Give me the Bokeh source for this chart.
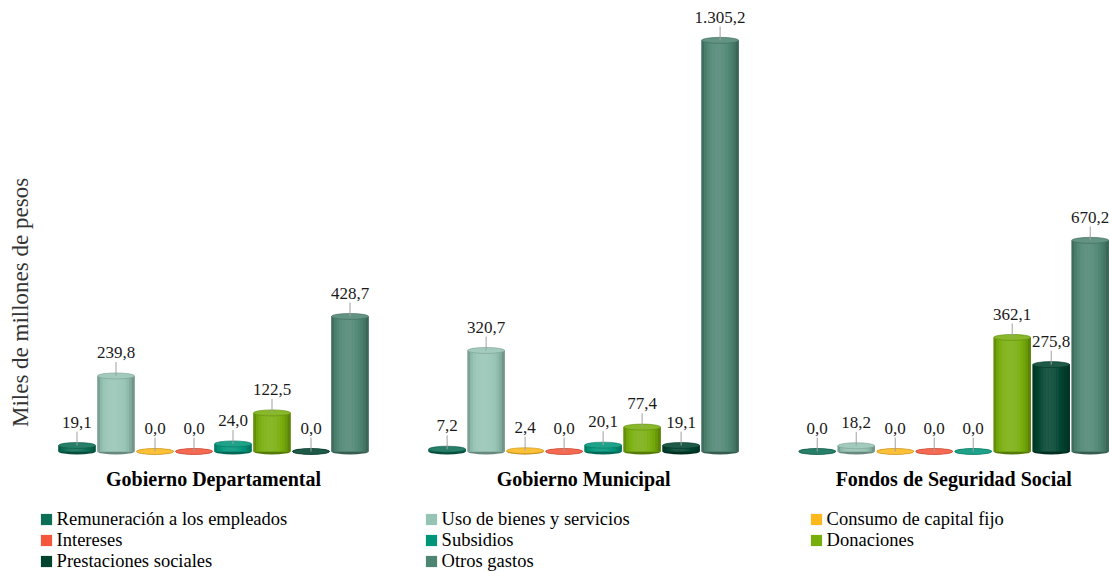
import math
from bokeh.plotting import figure
from bokeh.models import Range1d, Legend, LegendItem
from bokeh.core.properties import value
from bokeh.embed import file_html
from bokeh.resources import INLINE

# ---------------- data ----------------
groups = ["Gobierno Departamental", "Gobierno Municipal", "Fondos de Seguridad Social"]
series = ["Remuneración a los empleados", "Uso de bienes y servicios", "Consumo de capital fijo",
          "Intereses", "Subsidios", "Donaciones", "Prestaciones sociales", "Otros gastos"]
colors = ["#0B6E55", "#96C4B4", "#FDB81E", "#F5553A", "#00957A", "#78AE0C", "#00432F", "#4E8572"]
dept = [19.1, 239.8, 0.0, 0.0, 24.0, 122.5, 0.0, 428.7]
muni = [7.2, 320.7, 2.4, 0.0, 20.1, 77.4, 19.1, 1305.2]
fondos = [0.0, 18.2, 0.0, 0.0, 0.0, 362.1, 275.8, 670.2]
values_by_group = [dept, muni, fondos]
y_label = "Miles de millones de pesos"

# ---------------- layout constants ----------------
GROUP_STEP = 9.49
BAR_W = 0.95
N_STRIPS = 14
LABEL_DY = 74      # data units (~23 px)
LEADER_DY = 44     # data units (~14 px)
FONT = "Liberation Serif"
SERIF = value(FONT)


def hex_to_rgb(h):
    h = h.lstrip("#")
    return tuple(int(h[i:i + 2], 16) for i in (0, 2, 4))


def shade(h, k):
    r, g, b = hex_to_rgb(h)
    if k >= 0:
        r, g, b = (c + (255 - c) * k for c in (r, g, b))
    else:
        r, g, b = (c * (1 + k) for c in (r, g, b))
    return "#%02x%02x%02x" % tuple(int(round(max(0, min(255, c)))) for c in (r, g, b))


def fmt(v):
    s = f"{v:,.1f}"
    return s.replace(",", "X").replace(".", ",").replace("X", ".")


p = figure(width=1109, height=571, output_backend="svg", toolbar_location=None,
           x_range=Range1d(-1.9615, 26.474), y_range=Range1d(-381.0, 1431.7),
           x_axis_location=None, y_axis_location=None,
           min_border_left=0, min_border_right=0, min_border_top=0, min_border_bottom=0)
p.outline_line_color = None
p.xgrid.visible = False
p.ygrid.visible = False
p.background_fill_color = "white"

# bar positions
bar_x, bar_v, bar_s = [], [], []
for g, vals in enumerate(values_by_group):
    for i, v in enumerate(vals):
        bar_x.append(g * GROUP_STEP + i)
        bar_v.append(v)
        bar_s.append(i)

# bottom ellipses
p.ellipse(x=bar_x, y=[0] * len(bar_x), width=BAR_W, height=6, height_units="screen",
          fill_color=[shade(colors[s], -0.3) for s in bar_s], line_color=None)

# base bars (legend renderers)
base_renderers = []
for s in range(len(series)):
    xs = [x for x, ss in zip(bar_x, bar_s) if ss == s]
    vs = [v for v, ss in zip(bar_v, bar_s) if ss == s]
    r = p.vbar(x=xs, top=vs, bottom=0, width=BAR_W, fill_color=colors[s], line_color=None)
    base_renderers.append(r)

# cylinder shading strips
sx, stop, sw, sc = [], [], [], []
for x, v, s in zip(bar_x, bar_v, bar_s):
    if v <= 0:
        continue
    for j in range(N_STRIPS):
        t = (j + 0.5) / N_STRIPS
        tp = t ** 0.85
        k = -0.40 + 0.52 * (math.sin(math.pi * tp) ** 0.5)
        sx.append(x - BAR_W / 2 + t * BAR_W)
        stop.append(v)
        sw.append(BAR_W / N_STRIPS * 1.12)
        sc.append(shade(colors[s], k))
p.vbar(x=sx, top=stop, bottom=0, width=sw, fill_color=sc, line_color=None)

# top caps
p.ellipse(x=bar_x, y=bar_v, width=BAR_W, height=6, height_units="screen",
          fill_color=[shade(colors[s], 0.12) for s in bar_s],
          line_color=[shade(colors[s], -0.2) for s in bar_s], line_width=0.6)

# leader lines and value labels
p.segment(x0=bar_x, y0=bar_v, x1=bar_x, y1=[v + LEADER_DY for v in bar_v],
          line_color="#a0a0a0", line_width=1)
p.text(x=bar_x, y=[v + LABEL_DY for v in bar_v], text=[fmt(v) for v in bar_v],
       text_align="center", text_baseline="middle", text_font=SERIF,
       text_font_size="17px", text_color="#1a1a1a")

# category labels
p.text(x=[g * GROUP_STEP + 3.5 for g in range(len(groups))], y=[-86] * len(groups), text=groups,
       text_align="center", text_baseline="middle", text_font=SERIF,
       text_font_size="20px", text_font_style="bold", text_color="#000000")

# y axis title
p.text(x=[-1.449], y=[473], text=[y_label], angle=math.pi / 2,
       text_align="center", text_baseline="middle", text_font=SERIF,
       text_font_size="23px", text_color="#333333")

# legend: one row per Legend so the row pitch matches the reference
row_items = [[0, 1, 2], [3, 4, 5], [6, 7]]
row_y = [41.5, 20.5, -0.5]
for items, ly in zip(row_items, row_y):
    lg = Legend(items=[LegendItem(label=series[i], renderers=[base_renderers[i]]) for i in items],
                location=(38.6, ly), orientation="horizontal",
                padding=0, margin=0, spacing=0,
                glyph_width=14, glyph_height=14, label_standoff=4,
                label_width=367, label_height=21,
                label_text_font=FONT, label_text_font_size="18.5px", label_text_color="#000000",
                border_line_color=None, background_fill_alpha=0)
    p.add_layout(lg)

open("out.html", "w").write(file_html(p, INLINE))
